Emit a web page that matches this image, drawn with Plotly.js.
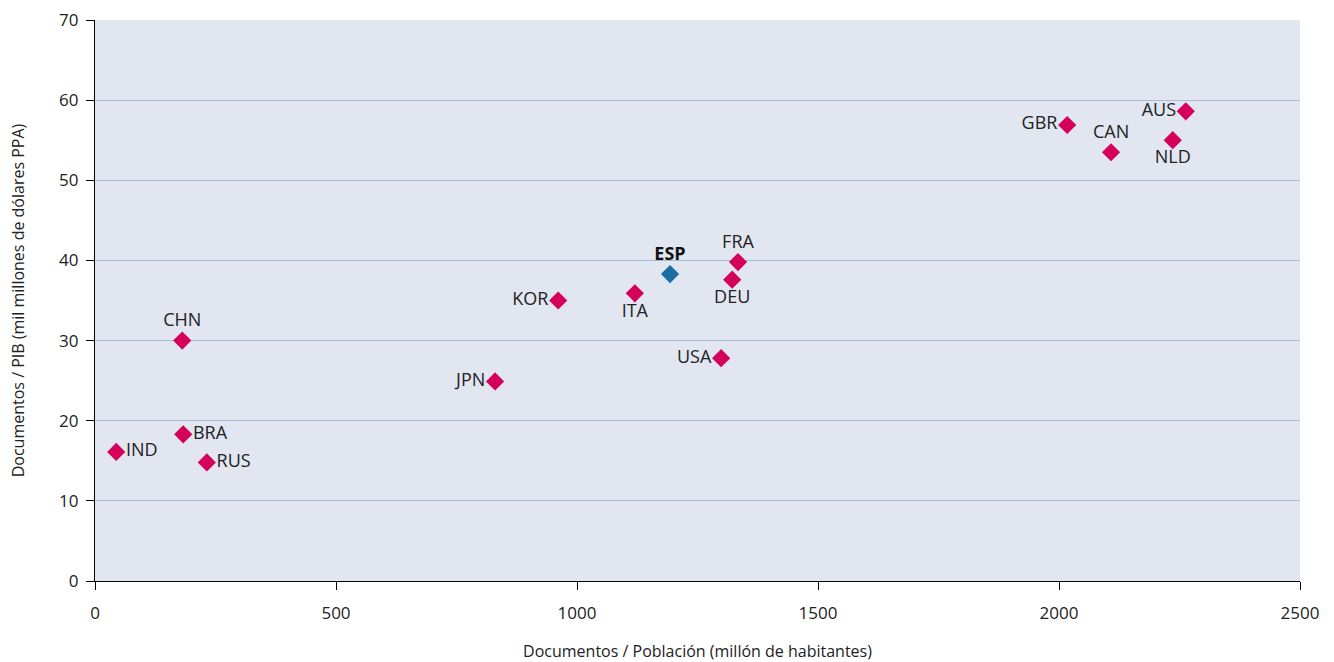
<!DOCTYPE html>
<html>
<head>
<meta charset="utf-8">
<script src="https://cdn.plot.ly/plotly-3.0.1.min.js"></script>
<style>html,body{margin:0;padding:0;background:#fff;}#chart{width:1334px;height:662px;}</style>
</head>
<body>
<div id="chart"></div>
<script>
const countries = ["IND","CHN","BRA","RUS","JPN","KOR","ITA","USA","DEU","FRA","GBR","CAN","NLD","AUS"];
const docsPerPop = [44, 181, 183, 232, 830, 961, 1120, 1299, 1322, 1334, 2017, 2108, 2236, 2263];
const docsPerGdp = [16.1, 30.0, 18.3, 14.8, 24.9, 35.0, 35.9, 27.8, 37.6, 39.8, 56.9, 53.5, 55.0, 58.6];
const labelPos = ["middle right","top center","middle right","middle right","middle left","middle left","bottom center","middle left","bottom center","top center","middle left","top center","bottom center","middle left"];
const espName = ["ESP"];
const espX = [1193];
const espY = [38.3];

const font = "'Open Sans', 'Noto Sans', sans-serif";
const traces = [
  {
    type: "scatter", mode: "markers+text",
    x: docsPerPop, y: docsPerGdp, text: countries, textposition: labelPos,
    marker: {symbol: "diamond", size: 14, color: "#d4005a"},
    textfont: {family: font, size: 18, color: "#222"},
    cliponaxis: false, hoverinfo: "x+y+text"
  },
  {
    type: "scatter", mode: "markers+text",
    x: espX, y: espY, text: espName.map(s => "<b>" + s + "</b>"), textposition: "top center",
    marker: {symbol: "diamond", size: 14, color: "#1a6ea3"},
    textfont: {family: font, size: 18, color: "#111"},
    cliponaxis: false
  }
];
const layout = {
  width: 1334, height: 662,
  margin: {l: 95, r: 34, t: 20, b: 81},
  paper_bgcolor: "#ffffff",
  plot_bgcolor: "#e1e6f1",
  showlegend: false,
  font: {family: font, color: "#222"},
  xaxis: {
    range: [0, 2500], dtick: 500, tick0: 0,
    showgrid: false, zeroline: false,
    showline: true, linecolor: "#000", linewidth: 1.3,
    ticks: "outside", ticklen: 8, tickcolor: "#000", tickwidth: 1,
    tickfont: {size: 17, color: "#222"},
    ticklabelstandoff: 8,
    title: {text: "Documentos / Población (millón de habitantes)", font: {size: 16, color: "#222"}, standoff: 24}
  },
  yaxis: {
    range: [0, 70], dtick: 10, tick0: 0,
    showgrid: true, gridcolor: "#a6bcd9", gridwidth: 1,
    zeroline: false,
    showline: true, linecolor: "#000", linewidth: 1.3,
    ticks: "outside", ticklen: 8, tickcolor: "#000", tickwidth: 1,
    tickfont: {size: 17, color: "#222"},
    ticklabelstandoff: 4,
    title: {text: "Documentos / PIB (mil millones de dólares PPA)", font: {size: 16, color: "#222"}, standoff: 30}
  }
};
Plotly.newPlot("chart", traces, layout, {displayModeBar: false});
</script>
</body>
</html>
